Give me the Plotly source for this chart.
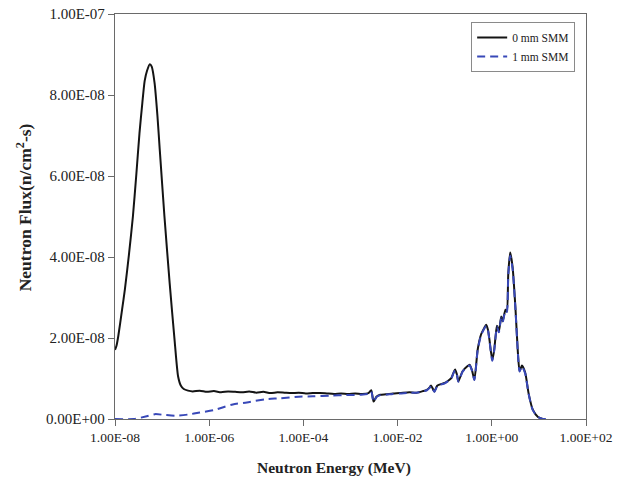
import plotly.graph_objects as go

# ---- data (energy as log10(MeV), flux in units of 1e-9 n/cm2-s) ----
log_e_0mm = [-8.00, -7.97, -7.93, -7.85, -7.79, -7.70, -7.62, -7.55, -7.48, -7.42, -7.37, -7.32,
             -7.26, -7.22, -7.16, -7.10, -7.05, -6.95, -6.84, -6.73, -6.66, -6.60, -6.54, -6.45,
             -6.35, -6.20, -6.05, -5.90, -5.75, -5.60, -5.45, -5.30, -5.15, -5.00, -4.85, -4.70,
             -4.55, -4.40, -4.25, -4.10, -3.95, -3.80, -3.65, -3.50, -3.35, -3.20, -3.05, -2.90,
             -2.75, -2.62, -2.56, -2.51, -2.45, -2.37, -2.25, -2.10, -1.95, -1.75, -1.60, -1.46,
             -1.38, -1.32, -1.29, -1.22, -1.16, -1.11, -1.00, -0.92, -0.86, -0.81, -0.78, -0.74,
             -0.71, -0.62, -0.52, -0.47, -0.42, -0.37, -0.30, -0.23, -0.16, -0.12, -0.08, -0.05,
             0.01, 0.05, 0.08, 0.11, 0.15, 0.20, 0.23, 0.29, 0.32, 0.35, 0.39, 0.44, 0.50, 0.55,
             0.59, 0.64, 0.71, 0.78, 0.87, 0.98, 1.08]
flux_0mm = [17.1, 18.0, 20.5, 27.0, 32.0, 41.0, 50.0, 60.0, 70.6, 78.0, 83.5, 86.0,
            87.6, 87.0, 83.0, 75.0, 66.5, 50.0, 33.6, 18.8, 10.5, 8.2, 7.4, 7.0,
            6.8, 7.0, 6.7, 6.9, 6.6, 6.8, 6.7, 6.6, 6.8, 6.5, 6.7, 6.4,
            6.6, 6.5, 6.4, 6.5, 6.3, 6.4, 6.4, 6.3, 6.2, 6.3, 6.2, 6.3,
            6.2, 6.4, 7.1, 4.3, 5.5, 6.0, 6.1, 6.3, 6.4, 6.6, 6.5, 6.9,
            7.2, 7.8, 8.3, 6.8, 8.2, 8.5, 8.9, 9.5, 10.1, 11.5, 12.2, 11.0,
            9.3, 11.8, 13.0, 13.4, 12.0, 9.7, 17.1, 20.8, 22.5, 23.3, 22.0, 19.6,
            14.6, 17.0, 20.4, 23.0, 21.6, 25.3, 24.1, 27.0, 26.6, 36.0, 41.1, 37.7, 27.8, 17.1,
            11.8, 13.2, 11.4, 6.4, 2.3, 0.5, 0.0]

log_e_1mm = [-8.00, -7.60, -7.35, -7.15, -6.95, -6.70, -6.45, -6.20, -5.90, -5.50, -5.20, -4.80,
             -4.50, -4.10, -3.80, -3.40, -3.10, -2.80, -2.62, -2.56, -2.51, -2.45, -2.37, -2.25,
             -2.10, -1.95, -1.75, -1.60, -1.46, -1.38, -1.32, -1.29, -1.22, -1.16, -1.11, -1.00,
             -0.92, -0.86, -0.81, -0.78, -0.74, -0.71, -0.62, -0.52, -0.47, -0.42, -0.37, -0.30,
             -0.23, -0.16, -0.12, -0.08, -0.05, 0.01, 0.05, 0.08, 0.11, 0.15, 0.20, 0.23, 0.29,
             0.32, 0.35, 0.39, 0.44, 0.50, 0.55, 0.59, 0.64, 0.71, 0.78, 0.87, 0.98, 1.08, 1.20]
flux_1mm = [0.0, 0.0, 0.6, 1.2, 1.0, 0.8, 1.1, 1.6, 2.2, 3.6, 4.1, 4.9,
            5.1, 5.5, 5.6, 5.8, 5.9, 6.0, 6.2, 6.8, 4.2, 5.4, 5.9, 6.0,
            6.2, 6.3, 6.5, 6.5, 6.8, 7.1, 7.7, 8.2, 6.7, 8.1, 8.4, 8.8,
            9.4, 10.0, 11.4, 12.0, 10.9, 9.2, 11.7, 12.9, 13.2, 11.9, 9.6, 17.0,
            20.6, 22.3, 23.0, 21.8, 19.4, 14.4, 16.8, 20.2, 22.8, 21.4, 25.0, 23.9, 26.8,
            26.4, 35.5, 40.3, 37.2, 27.5, 17.0, 11.7, 13.0, 11.2, 6.3, 2.2, 0.5, 0.0, 0.0]

series_names = ["0 mm SMM", "1 mm SMM"]
x_tick_exponents = [-8, -6, -4, -2, 0, 2]
x_tick_labels = ["1.00E-08", "1.00E-06", "1.00E-04", "1.00E-02", "1.00E+00", "1.00E+02"]
y_tick_values = [0, 2e-8, 4e-8, 6e-8, 8e-8, 1e-7]
y_tick_labels = ["0.00E+00", "2.00E-08", "4.00E-08", "6.00E-08", "8.00E-08", "1.00E-07"]

SCALE = 1e-9
FONT = "Liberation Serif"
AXIS_COLOR = "#6a6a6a"
TEXT_COLOR = "#222222"

fig = go.Figure()
fig.add_trace(go.Scatter(
    x=[10 ** v for v in log_e_0mm], y=[f * SCALE for f in flux_0mm],
    mode="lines", name=series_names[0],
    line=dict(color="#141414", width=2, shape="spline", smoothing=0.6),
))
fig.add_trace(go.Scatter(
    x=[10 ** v for v in log_e_1mm], y=[f * SCALE for f in flux_1mm],
    mode="lines", name=series_names[1],
    line=dict(color="#3848b8", width=2, dash="8px,5px", shape="spline", smoothing=0.6),
))

fig.update_layout(
    width=627, height=478,
    margin=dict(l=115, r=41, t=14, b=59),
    paper_bgcolor="white", plot_bgcolor="white",
    font=dict(family=FONT, size=13, color=TEXT_COLOR),
    showlegend=True,
    legend=dict(
        x=0.977, y=0.98, xanchor="right", yanchor="top",
        bgcolor="white", bordercolor="#8a8a8a", borderwidth=1,
        font=dict(family=FONT, size=11.5, color=TEXT_COLOR),
        tracegroupgap=0, itemwidth=30,
    ),
    xaxis=dict(
        type="log", range=[-8, 2],
        tickvals=[10 ** e for e in x_tick_exponents], ticktext=x_tick_labels,
        showgrid=False, zeroline=False,
        showline=True, linecolor=AXIS_COLOR, linewidth=1.3, mirror=True,
        ticks="outside", ticklen=6, tickcolor=AXIS_COLOR, tickwidth=1.3,
        tickfont=dict(family=FONT, size=13.5, color=TEXT_COLOR),
    ),
    yaxis=dict(
        range=[0, 1e-7],
        tickvals=y_tick_values, ticktext=y_tick_labels,
        showgrid=False, zeroline=False,
        showline=True, linecolor=AXIS_COLOR, linewidth=1.3, mirror=True,
        ticks="outside", ticklen=6, tickcolor=AXIS_COLOR, tickwidth=1.3,
        tickfont=dict(family=FONT, size=15, color=TEXT_COLOR),
        automargin=False,
    ),
    annotations=[
        dict(
            text="<b>Neutron Energy (MeV)</b>", xref="paper", yref="paper",
            x=0.4646, y=-0.095, xanchor="center", yanchor="top", showarrow=False,
            font=dict(family=FONT, size=15.5, color=TEXT_COLOR),
        ),
        dict(
            text="<b>Neutron Flux(n/cm<sup>2</sup>-s)</b>", xref="paper", yref="paper",
            x=-0.193, y=0.523, xanchor="center", yanchor="middle", showarrow=False,
            textangle=-90,
            font=dict(family=FONT, size=17.5, color=TEXT_COLOR),
        ),
    ],
)

fig.write_html("out.html")
